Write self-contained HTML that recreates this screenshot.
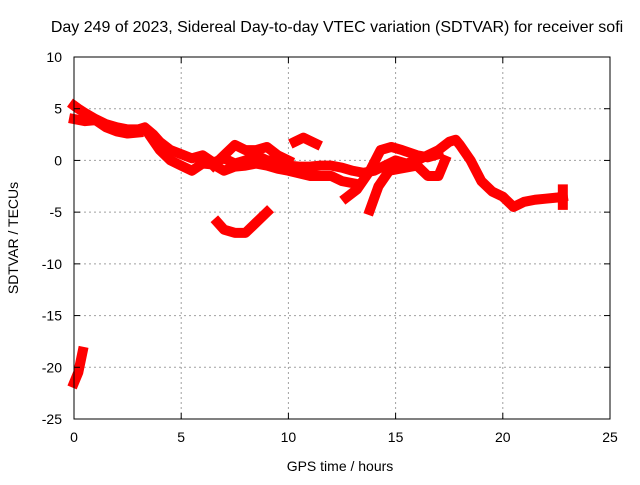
<!DOCTYPE html>
<html><head><meta charset="utf-8"><style>
body{margin:0;background:#fff}
svg text{font-family:"Liberation Sans",sans-serif;font-size:14px;fill:#000}
</style></head><body>
<svg id="c" width="640" height="480">
<text x="337" y="32" text-anchor="middle" style="font-size:16px">Day 249 of 2023, Sidereal Day-to-day VTEC variation (SDTVAR) for receiver sofi</text>
<text x="340" y="471" text-anchor="middle">GPS time / hours</text>
<text transform="translate(18,238) rotate(-90)" text-anchor="middle">SDTVAR / TECUs</text>
<g id="grid"></g><g id="data"></g>
<rect x="74" y="57" width="536" height="362" fill="none" stroke="#000" stroke-width="1"/>
<g id="ticks"></g>
</svg>
<script>
const xTicks=[0,5,10,15,20,25];
const yTicks=[10,5,0,-5,-10,-15,-20,-25];
const track1=[[0,5.3],[0.2,5],[0.5,4.6],[1,4],[1.5,3.5],[2,3.2],[2.5,3],[3,3],[3.3,3.2],[3.7,2.5],[4,1.8],[4.5,1],[5,0.6],[5.5,0.2],[6,0.5],[6.5,-0.2],[7,0.2],[7.5,-0.3],[8,0],[8.5,0.5],[9,0],[9.5,0],[10,-0.5],[10.5,-0.6],[11,-0.6],[11.5,-0.5],[12,-0.5],[12.5,-0.7],[13,-1],[13.5,-1.2],[14,-1],[14.5,-0.5],[15,0],[15.5,-0.3],[16,0],[16.5,0.5],[17,1],[17.5,1.8],[17.8,2],[18,1.5],[18.5,0],[19,-2],[19.5,-3],[20,-3.5],[20.5,-4.5],[21,-4],[21.5,-3.8],[22,-3.7],[22.5,-3.6],[22.8,-3.5]];
const track0=[[0,4],[0.5,3.8],[1,3.9],[1.5,3.2],[2,2.8],[2.5,2.6],[3,2.7]];
const track2=[[3.5,2.5],[4,1],[4.5,0],[5,-0.5],[5.5,-1],[6,-0.3],[6.5,-0.4],[7,-1],[7.5,-0.6],[8,-0.5],[8.5,-0.3],[9,-0.5],[9.5,-0.8],[10,-1],[11,-1.5],[12,-1.5],[12.5,-2],[13,-2.2]];
const track3=[[6.5,-0.5],[7,0.5],[7.5,1.5],[8,1],[8.5,1],[9,1.3],[9.5,0.5],[10,0]];
const track4=[[10.3,1.8],[10.7,2.2],[11,1.9],[11.3,1.6]];
const track5=[[12.7,-3.6],[13.2,-2.8],[13.8,-1],[14.3,1],[14.8,1.3],[15.3,1],[16,0.5],[16.5,0.3],[17,0.6]];
const track6=[[13.8,-4.8],[14.2,-2.5],[14.7,-1],[15.2,-0.8],[16,-0.5],[16.5,-1.5],[17,-1.5],[17.3,0]];
const track7=[[6.7,-6],[7,-6.7],[7.5,-7],[8,-7],[8.5,-6],[9,-5]];
const track8=[[0,-21.5],[0.2,-20.5],[0.4,-18.5]];
const track9=[[22.8,-2.8],[22.8,-4.3]];
const tracks=[track1,track0,track2,track3,track4,track5,track6,track7,track8,track9];
const X0=74,X1=610,Y0=419,Y1=57;
const sx=v=>X0+(v-0)/25*(X1-X0);
const sy=v=>Y0-(v+25)/35*(Y0-Y1);
const NS="http://www.w3.org/2000/svg";
const g=document.getElementById('grid'),t=document.getElementById('ticks'),d=document.getElementById('data');
function mk(tag,at,p){const e=document.createElementNS(NS,tag);for(const k in at)e.setAttribute(k,at[k]);p.appendChild(e);return e;}
xTicks.forEach(v=>{const x=sx(v);
 if(v>0&&v<25){const l=mk('line',{x1:x,x2:x,y1:Y0,y2:Y1,stroke:'#a0a0a0','stroke-dasharray':'2,3'},g);}
 mk('line',{x1:x,x2:x,y1:Y0,y2:Y0-6,stroke:'#000'},t);mk('line',{x1:x,x2:x,y1:Y1,y2:Y1+6,stroke:'#000'},t);
 const tx=mk('text',{x:x,y:Y0+23,'text-anchor':'middle'},t);tx.textContent=v;
 });
yTicks.forEach(v=>{const y=sy(v);
 if(v>-25&&v<10){const l=mk('line',{x1:X0,x2:X1,y1:y,y2:y,stroke:'#a0a0a0','stroke-dasharray':'2,3'},g);}
 mk('line',{x1:X0,x2:X0+6,y1:y,y2:y,stroke:'#000'},t);mk('line',{x1:X1,x2:X1-6,y1:y,y2:y,stroke:'#000'},t);
 const tx=mk('text',{x:X0-12,y:y+5,'text-anchor':'end'},t);tx.textContent=v;
 });
tracks.forEach(tr=>{const p=mk('polyline',{points:tr.map(q=>sx(q[0])+','+sy(q[1])).join(' '),fill:'none',stroke:'#f00','stroke-width':10,'stroke-linejoin':'round','stroke-linecap':'square'},d);
 
 });
</script>
</body></html>
